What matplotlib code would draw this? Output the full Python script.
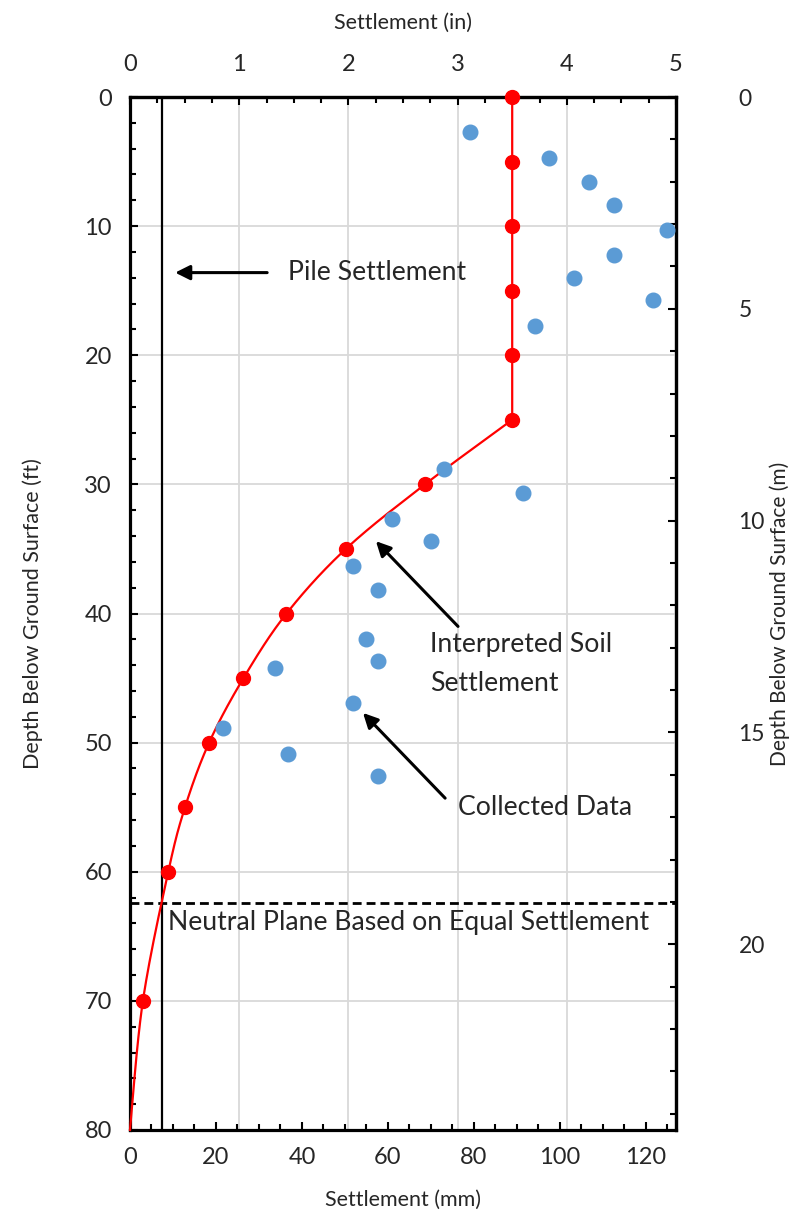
import numpy as np
import matplotlib
matplotlib.use("Agg")
import matplotlib.pyplot as plt
from matplotlib.ticker import MultipleLocator, FixedLocator
from matplotlib.transforms import blended_transform_factory

plt.rcParams['font.family'] = ['Lato', 'DejaVu Sans']

# ---------------- data ----------------
interp_depth_ft = [0, 5, 10, 15, 20, 25, 30, 35, 40, 45, 50, 55, 60, 70, 80]
interp_settle_mm = [88.9, 88.9, 88.9, 88.9, 88.9, 88.9, 68.6, 50.2, 36.4,
                    26.4, 18.4, 12.8, 8.9, 3.0, 0.0]

meas_settle_mm = [79.2, 97.4, 106.7, 112.6, 124.8, 112.6, 103.3, 121.7, 94.3,
                  73.0, 91.5, 61.0, 70.0, 51.8, 57.7, 54.8, 57.7, 33.7, 51.8,
                  21.6, 36.7, 57.7]
meas_depth_ft = [2.7, 4.7, 6.6, 8.4, 10.3, 12.2, 14.0, 15.7, 17.7,
                 28.8, 30.7, 32.7, 34.4, 36.3, 38.2, 42.0, 43.7, 44.2, 46.9,
                 48.9, 50.9, 52.6]

pile_settlement_mm = 7.4
neutral_plane_ft = 62.4

x_max_mm = 127.0
y_max_ft = 80.0
MM_PER_IN = 25.4
FT_PER_M = 3.28084

in_major = [0, 1, 2, 3, 4, 5]
m_major = [0, 5, 10, 15, 20]
n_straight = 6  # points of the vertical (constant) upper part


def excel_smooth(xs, ys, n=40):
    P = np.column_stack([xs, ys]).astype(float)
    Pe = np.vstack([P[0], P, P[-1]])
    out = []
    t = np.linspace(0, 1, n)[:, None]
    for i in range(len(P) - 1):
        p0, p1, p2, p3 = Pe[i], Pe[i + 1], Pe[i + 2], Pe[i + 3]
        b1 = p1 + (p2 - p0) / 6.0
        b2 = p2 - (p3 - p1) / 6.0
        seg = (1 - t) ** 3 * p1 + 3 * (1 - t) ** 2 * t * b1 + 3 * (1 - t) * t ** 2 * b2 + t ** 3 * p2
        out.append(seg if i == 0 else seg[1:])
    return np.vstack(out)


W, H = 790, 1224
fig = plt.figure(figsize=(W / 100, H / 100), dpi=100)
L, R, T, B = 130, 676, 97, 1130
ax = fig.add_axes([L / W, (H - B) / H, (R - L) / W, (B - T) / H])

ax.set_xlim(0, x_max_mm)
ax.set_ylim(y_max_ft, 0)

FS = 17      # tick labels
FSL = 15.5   # axis titles
FSA = 19.2   # annotations
GRID = '#D9D9D9'
TXT = '#262626'

# grid
ax.yaxis.set_major_locator(MultipleLocator(10))
ax.yaxis.set_minor_locator(MultipleLocator(2))
ax.grid(axis='y', color=GRID, lw=1.3, zorder=0)
for v in in_major[1:-1]:
    ax.axvline(v * MM_PER_IN, color=GRID, lw=1.3, zorder=0)

# pile settlement line and neutral plane
ax.axvline(pile_settlement_mm, color='black', lw=1.6, zorder=2)
ax.axhline(neutral_plane_ft, color='black', lw=2.0, dashes=(3.2, 1.8), zorder=2)

# interpreted soil settlement
upper_x = interp_settle_mm[:n_straight]
upper_y = interp_depth_ft[:n_straight]
curve = excel_smooth(interp_settle_mm[n_straight - 1:], interp_depth_ft[n_straight - 1:])
line_x = np.concatenate([upper_x, curve[1:, 0]])
line_y = np.concatenate([upper_y, curve[1:, 1]])
ax.plot(line_x, line_y, color='#FF0000', lw=1.6, zorder=3, clip_on=False)
ax.plot(interp_settle_mm[:-1], interp_depth_ft[:-1], 'o', color='#FF0000',
        ms=10, mec='#FF0000', zorder=4, clip_on=False)

# collected data
ax.plot(meas_settle_mm, meas_depth_ft, 'o', color='#5B9BD5', ms=10.5,
        mec='#5B9BD5', zorder=3, clip_on=False)

# ticks main axes
ax.xaxis.set_major_locator(MultipleLocator(20))
ax.xaxis.set_minor_locator(MultipleLocator(5))
ax.tick_params(axis='both', which='major', direction='in', length=6, width=1.5,
               labelsize=FS, colors='black')
ax.tick_params(axis='both', which='minor', direction='in', length=4.5, width=1.5)
ax.tick_params(axis='x', pad=12)
ax.tick_params(axis='y', pad=13)
for lab in ax.get_xticklabels() + ax.get_yticklabels():
    lab.set_color(TXT)

for s in ax.spines.values():
    s.set_linewidth(2.3)

ax.set_xlabel('Settlement (mm)', fontsize=FSL, color=TXT, labelpad=16)
ax.set_ylabel('Depth Below Ground Surface (ft)', fontsize=FSL, color=TXT, labelpad=30)

# top axis (inches)
secx = ax.secondary_xaxis('top', functions=(lambda x: x / MM_PER_IN, lambda x: x * MM_PER_IN))
secx.xaxis.set_major_locator(FixedLocator(in_major))
secx.xaxis.set_minor_locator(MultipleLocator(0.25))
secx.tick_params(which='major', direction='in', length=6, width=1.5, labelsize=FS, pad=16,
                 labelcolor=TXT)
secx.tick_params(which='minor', direction='in', length=4.5, width=1.5)
secx.spines['top'].set_linewidth(2.3)
secx.set_xlabel('Settlement (in)', fontsize=FSL, color=TXT, labelpad=18)

# right axis (meters)
secy = ax.secondary_yaxis('right', functions=(lambda y: y / FT_PER_M, lambda y: y * FT_PER_M))
secy.yaxis.set_major_locator(FixedLocator(m_major))
secy.yaxis.set_minor_locator(MultipleLocator(1))
secy.tick_params(which='major', direction='in', length=6, width=1.5, labelsize=16.5, pad=45,
                 labelcolor=TXT)
secy.tick_params(which='minor', direction='in', length=4.5, width=1.5)
secy.spines['right'].set_linewidth(2.3)
secy.set_ylabel('Depth Below Ground Surface (m)', fontsize=15, color=TXT)
secy.yaxis.set_label_coords(780 / W, 0.5,
                            transform=blended_transform_factory(fig.transFigure, ax.transAxes))
secy.yaxis.label.set_va('center')
secy.yaxis.label.set_ha('center')

# annotations
arrow = dict(arrowstyle='-|>', color='black', lw=2.2, mutation_scale=22, shrinkA=0, shrinkB=0)
ax.annotate('', xy=(10.5, 13.6), xytext=(31.9, 13.6), arrowprops=arrow, zorder=5)
ax.text(36.7, 13.6, 'Pile Settlement', fontsize=FSA, color=TXT, va='center', ha='left')

ax.annotate('', xy=(57.2, 34.4), xytext=(76.3, 41.0), arrowprops=arrow, zorder=5)
ax.text(69.8, 43.9, 'Interpreted Soil\nSettlement', fontsize=FSA, color=TXT,
        va='center', ha='left', linespacing=1.7)

ax.annotate('', xy=(54.2, 47.7), xytext=(73.3, 54.3), arrowprops=arrow, zorder=5)
ax.text(76.3, 55.0, 'Collected Data', fontsize=FSA, color=TXT, va='center', ha='left')

ax.text(8.8, 63.9, 'Neutral Plane Based on Equal Settlement', fontsize=FSA, color=TXT,
        va='center', ha='left')

fig.savefig('out.png', dpi=100)
